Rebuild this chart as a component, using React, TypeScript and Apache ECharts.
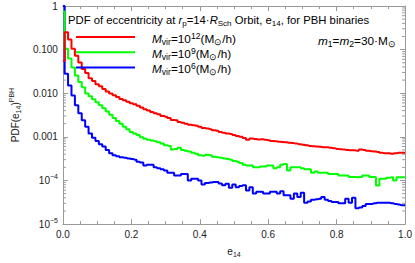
import React, { useEffect, useRef } from "react";
import * as echarts from "echarts";

const FF = '"Liberation Sans", Arial, Helvetica, sans-serif';

// bin centres of eccentricity e14 (bin width 0.01)
const BIN_WIDTH = 0.01;
const eCenters: number[] = Array.from({ length: 101 }, (_, k) => +(k * BIN_WIDTH).toFixed(2));

const xTicks = ["0.0", "0.2", "0.4", "0.6", "0.8", "1.0"];

const pdfMvir12: number[] = [
  0.055, 0.25, 0.17, 0.105, 0.072, 0.051, 0.036, 0.029, 0.022, 0.019,
  0.016, 0.0145, 0.0125, 0.011, 0.0098, 0.009, 0.0082, 0.0074, 0.0069, 0.0064,
  0.0059, 0.0056, 0.0052, 0.0047, 0.0043, 0.004, 0.0037, 0.0035, 0.0033, 0.003,
  0.0029, 0.0027, 0.00245, 0.0024, 0.0022, 0.0021, 0.002, 0.0019, 0.00185, 0.0018,
  0.0017, 0.0016, 0.00155, 0.0015, 0.00142, 0.00138, 0.0013, 0.00125, 0.0012, 0.00116,
  0.0011, 0.00104, 0.001, 0.00094, 0.00086, 0.00092, 0.00089, 0.00087, 0.00088, 0.00086,
  0.00084, 0.0008, 0.00079, 0.00077, 0.00076, 0.00075, 0.00073, 0.00072, 0.0007, 0.00068,
  0.00066, 0.00064, 0.00062, 0.00061, 0.0006, 0.00059, 0.00058, 0.00058, 0.00056, 0.00055,
  0.00053, 0.00052, 0.00051, 0.0005, 0.00049, 0.00049, 0.00048, 0.00051, 0.0005, 0.00048,
  0.00047, 0.00046, 0.00045, 0.00043, 0.00042, 0.00042, 0.00041, 0.00042, 0.00043, 0.00043,
  0.00043,
];

const pdfMvir9: number[] = [
  0.75, 0.105, 0.0625, 0.039, 0.0254, 0.018, 0.0138, 0.0098, 0.0085, 0.0073,
  0.0062, 0.0053, 0.0045, 0.0038, 0.0032, 0.0027, 0.0023, 0.002, 0.0017, 0.0015,
  0.0013, 0.0012, 0.0011, 0.00098, 0.0009, 0.00086, 0.00082, 0.00079, 0.00075, 0.0007,
  0.00064, 0.00062, 0.00051, 0.00053, 0.00056, 0.0005, 0.00048, 0.00046, 0.00043, 0.00041,
  0.00038, 0.00037, 0.00039, 0.00038, 0.00035, 0.00034, 0.00033, 0.00032, 0.00031, 0.0003,
  0.00028, 0.00027, 0.00025, 0.00023, 0.00022, 0.00022, 0.0002, 0.0002, 0.00021, 0.00021,
  0.00022, 0.00022, 0.00019, 0.0002, 0.00023, 0.00024, 0.00017, 0.0002, 0.0002, 0.0002,
  0.00019, 0.00018, 0.00018, 0.00015, 0.00016, 0.00015, 0.00015, 0.00015, 0.00014, 0.00014,
  0.00014, 0.00013, 0.00013, 0.00013, 0.00012, 0.00012, 0.000118, 0.00012, 0.00013, 0.00013,
  0.00012, 0.00012, 0.000077, 0.00011, 0.00011, 0.000115, 0.000118, 0.0001, 0.000118, 0.000118,
  0.000118,
];

const pdfMvir6: number[] = [
  1.0, 0.028, 0.015, 0.0089, 0.0053, 0.0035, 0.0024, 0.0017, 0.0012, 0.00095,
  0.0008, 0.00068, 0.0006, 0.0005, 0.00042, 0.00038, 0.00036, 0.00034, 0.00033, 0.00032,
  0.00031, 0.0003, 0.00027, 0.00026, 0.00022, 0.00023, 0.00023, 0.0002, 0.00019, 0.00018,
  0.00017, 0.00015, 0.00015, 0.00013, 0.00013, 0.00014, 0.00014, 0.0001, 0.00011, 0.00011,
  0.0001, 0.000081, 0.000087, 0.00009, 0.000092, 0.000092, 0.000085, 0.000078, 0.000084, 0.000068,
  0.000081, 0.00007, 0.000075, 0.000078, 0.000059, 0.00007, 0.00005, 0.000055, 0.000055, 0.00005,
  0.00005, 0.000055, 0.000055, 0.00005, 0.000057, 0.000046, 0.000046, 0.000038, 0.00005, 0.000042,
  0.000052, 0.000031, 0.000033, 0.000036, 0.000037, 0.000038, 0.000042, 0.000036, 0.000034, 0.000032,
  0.000032, 0.00003, 0.00003, 0.000038, 0.000031, 0.00004, 0.000023, 0.000024, 0.000026, 0.000029,
  0.000029, 0.00003, 0.000031, 0.000031, 0.000031, 0.000031, 0.00003, 0.000029, 0.000028, 0.000027,
  0.000027,
];

const seriesNames = ["Mvir=10^12", "Mvir=10^9", "Mvir=10^6"];
const seriesColors = ["#ff0000", "#00ff00", "#0000ff"];
const legendExps = ["12", "9", "6"];

const AXIS_COLOR = "#9a9a9a";
const LABEL_COLOR = "#222";

export default function App() {
  const ref = useRef<HTMLDivElement>(null);

  useEffect(() => {
    if (!ref.current) return;
    const chart = echarts.init(ref.current, null, { renderer: "svg" });

    const minorVals: number[] = [];
    for (let d = -5; d < 0; d++) for (let m = 2; m <= 9; m++) minorVals.push(m * Math.pow(10, d));

    const mkRich = (fs: number, small: number) => {
      const txt = (extra: any = {}) => ({ fontSize: fs, fontFamily: FF, fill: "#000", color: "#000", lineHeight: 15, ...extra });
      return {
        t: txt(),
        i: txt({ fontStyle: "italic" }),
        sb: txt({ fontSize: small, lineHeight: 9, verticalAlign: "bottom" }),
        sp: txt({ fontSize: small, lineHeight: 9, verticalAlign: "top" }),
      };
    };
    const titleRich = mkRich(11.3, 8);
    const legendRich = mkRich(11.8, 8.6);

    const allData = [pdfMvir12, pdfMvir9, pdfMvir6];

    const axisCommonX = {
      type: "value",
      min: 0,
      max: 1,
      interval: 0.2,
      axisLine: { show: true, onZero: false, lineStyle: { color: AXIS_COLOR, width: 1 } },
      axisTick: { show: true, inside: true, length: 5, lineStyle: { color: AXIS_COLOR } },
      minorTick: { show: true, splitNumber: 4, length: 3, lineStyle: { color: AXIS_COLOR } },
      splitLine: { show: false },
      minorSplitLine: { show: false },
    };
    const axisCommonY = {
      type: "log",
      logBase: 10,
      min: 1e-5,
      max: 1,
      axisLine: { show: true, onZero: false, lineStyle: { color: AXIS_COLOR, width: 1 } },
      axisTick: { show: true, inside: true, length: 5, lineStyle: { color: AXIS_COLOR } },
      splitLine: { show: false },
    };

    const option: any = {
      animation: false,
      grid: { left: 48, right: 4, top: 6, bottom: 35 },
      xAxis: [
        {
          ...axisCommonX,
          position: "bottom",
          axisLabel: {
            color: LABEL_COLOR,
            fontSize: 10,
            fontFamily: FF,
            margin: 5,
            formatter: (v: number) => xTicks[Math.round(v / 0.2)] ?? v.toFixed(1),
          },
          name: "e{s|14}",
          nameLocation: "middle",
          nameGap: 18,
          nameTextStyle: {
            fontSize: 10,
            fontFamily: FF,
            color: LABEL_COLOR,
            lineHeight: 14,
            rich: { s: { fontSize: 7, fontFamily: FF, color: LABEL_COLOR, lineHeight: 8, verticalAlign: "bottom" } },
          },
        },
        { ...axisCommonX, position: "top", axisLabel: { show: false } },
      ],
      yAxis: [
        {
          ...axisCommonY,
          position: "left",
          axisLabel: {
            color: LABEL_COLOR,
            fontSize: 10,
            fontFamily: FF,
            margin: 5,
            formatter: (v: number) => {
              const p = Math.round(Math.log10(v));
              if (p === 0) return "{n|1}";
              if (p >= -3) return "{n|" + Math.pow(10, p).toFixed(3) + "}";
              return "{n|10}{p|\u2212" + -p + "}";
            },
            rich: {
              n: { fontSize: 10, fontFamily: FF, color: LABEL_COLOR, lineHeight: 14 },
              p: { fontSize: 7, fontFamily: FF, color: LABEL_COLOR, lineHeight: 8, verticalAlign: "top" },
            },
          },
          name: "PDF(e{s|14}){p|PBH}",
          nameLocation: "middle",
          nameRotate: 90,
          nameGap: 34,
          nameTextStyle: {
            fontSize: 10,
            fontFamily: FF,
            color: LABEL_COLOR,
            lineHeight: 14,
            rich: {
              s: { fontSize: 7, fontFamily: FF, color: LABEL_COLOR, lineHeight: 8, verticalAlign: "bottom" },
              p: { fontSize: 7, fontFamily: FF, color: LABEL_COLOR, lineHeight: 8, verticalAlign: "top" },
            },
          },
        },
        { ...axisCommonY, position: "right", axisLabel: { show: false } },
      ],
      graphic: [
        {
          type: "text",
          x: 68,
          y: 20,
          z: 10,
          style: {
            text:
              "{t|PDF of eccentricity at }{i|r}{sb|p}{t|=14\u00b7}{i|R}{sb|Sch}{t| Orbit, e}{sb|14}{t|, for PBH binaries}",
            rich: titleRich,
            verticalAlign: "middle",
            align: "left",
          },
        },
        {
          type: "text",
          x: 318,
          y: 41,
          z: 10,
          style: {
            text: "{i|m}{sb|1}{t|=}{i|m}{sb|2}{t|=30\u00b7M}{sb|\u2299}",
            rich: legendRich,
            verticalAlign: "middle",
            align: "left",
          },
        },
        ...seriesColors.flatMap((c, idx) => [
          {
            type: "line",
            z: 10,
            shape: { x1: 76, y1: 37 + idx * 15.3, x2: 135, y2: 37 + idx * 15.3 },
            style: { stroke: c, lineWidth: 2 },
          },
          {
            type: "text",
            x: 152,
            y: 38.5 + idx * 15.3,
            z: 10,
            style: {
              text: "{i|M}{sb|vir}{t|=10}{sp|" + legendExps[idx] + "}{t|(M}{sb|\u2299}{t|/h)}",
              rich: legendRich,
              verticalAlign: "middle",
              align: "left",
            },
          },
        ]),
      ],
      series: [
        ...[2, 1, 0].map((idx) => ({
          name: seriesNames[idx],
          type: "line",
          step: "middle",
          showSymbol: false,
          symbol: "none",
          clip: true,
          lineStyle: { color: seriesColors[idx], width: 2 },
          itemStyle: { color: seriesColors[idx] },
          data: eCenters.map((e, k) => [e, allData[idx][k]]),
          z: 3,
        })),
        {
          type: "custom",
          coordinateSystem: "cartesian2d",
          xAxisIndex: 0,
          yAxisIndex: 0,
          silent: true,
          clip: false,
          z: 2,
          data: minorVals.map((v) => [0, v]),
          renderItem: (_params: any, api: any) => {
            const v = api.value(1);
            const l = api.coord([0, v]);
            const r = api.coord([1, v]);
            return {
              type: "group",
              children: [
                { type: "line", shape: { x1: l[0], y1: l[1], x2: l[0] + 3, y2: l[1] }, style: { stroke: AXIS_COLOR, lineWidth: 1 } },
                { type: "line", shape: { x1: r[0] - 3, y1: r[1], x2: r[0], y2: r[1] }, style: { stroke: AXIS_COLOR, lineWidth: 1 } },
              ],
            };
          },
        },
      ],
    };

    chart.setOption(option);
    return () => chart.dispose();
  }, []);

  return (
    <div
      ref={ref}
      style={{ position: "absolute", left: 0, top: 0, width: 415, height: 263, background: "#fff" }}
    />
  );
}
